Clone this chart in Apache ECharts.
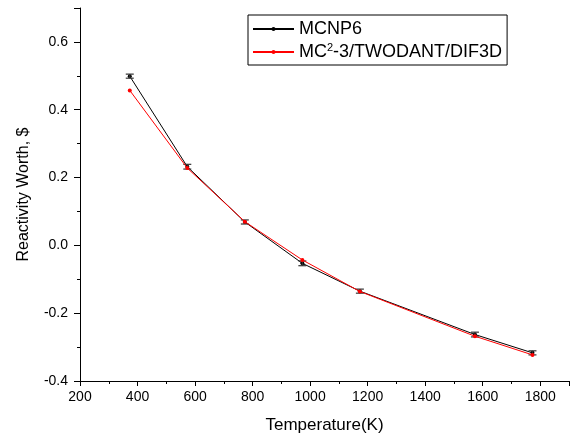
<!DOCTYPE html>
<html>
<head>
<meta charset="utf-8">
<script src="https://cdn.jsdelivr.net/npm/echarts@6/dist/echarts.min.js"></script>
<style>
  html, body { margin: 0; padding: 0; background: #fff; }
  #chart { width: 586px; height: 440px; }
</style>
</head>
<body>
<div id="chart"></div>
<script>
// temperatures (K)
var temps = [373, 573, 773, 973, 1173, 1573, 1773];
// MCNP6 reactivity worth ($) and its error
var mcnp6 = [0.499, 0.232, 0.069, -0.053, -0.135, -0.263, -0.317];
var mcnp6Err = [0.006, 0.007, 0.006, 0.007, 0.006, 0.007, 0.006];
// MC2-3/TWODANT/DIF3D
var dif3d = [0.457, 0.228, 0.070, -0.043, -0.136, -0.268, -0.323];

var font = "'Liberation Sans', Arial, sans-serif";

var chart = echarts.init(document.getElementById("chart"));

var option = {
  backgroundColor: "#fff",
  animation: false,
  textStyle: { fontFamily: font },
  grid: { left: 80, top: 8, right: 17, bottom: 59 },
  legend: {
    orient: "vertical",
    left: 248,
    top: 15,
    padding: [4, 5, 3, 4],
    itemGap: 3,
    itemWidth: 41,
    itemHeight: 5,
    borderColor: "#000",
    borderWidth: 1,
    borderRadius: 0,
    backgroundColor: "#fff",
    data: ["MCNP6", "MC2-3/TWODANT/DIF3D"],
    formatter: function (name) {
      if (name === "MC2-3/TWODANT/DIF3D") {
        return "MC{sup|2}-3/TWODANT/DIF3D";
      }
      return name;
    },
    textStyle: {
      fontSize: 18,
      lineHeight: 20,
      color: "#000",
      fontFamily: font,
      rich: {
        sup: { fontSize: 11, color: "#000", fontFamily: font, verticalAlign: "top", lineHeight: 12, padding: [0, 0, 8, 0] }
      }
    }
  },
  xAxis: {
    type: "value",
    min: 200,
    max: 1900,
    interval: 200,
    name: "Temperature(K)",
    nameLocation: "middle",
    nameGap: 36,
    nameTextStyle: { fontSize: 17, color: "#000", fontFamily: font },
    axisLine: { onZero: false, lineStyle: { color: "#000", width: 1 } },
    axisTick: { length: 5, lineStyle: { color: "#000" } },
    minorTick: { show: true, splitNumber: 2, length: 3, lineStyle: { color: "#000" } },
    splitLine: { show: false },
    axisLabel: {
      fontSize: 14,
      color: "#000",
      margin: 9,
      showMaxLabel: false,
      formatter: function (v) { return String(v); }
    }
  },
  yAxis: {
    type: "value",
    min: -0.4,
    max: 0.7,
    interval: 0.2,
    name: "Reactivity Worth, $",
    nameLocation: "middle",
    nameGap: 48,
    nameTextStyle: { fontSize: 16, color: "#000", fontFamily: font },
    axisLine: { show: true, onZero: false, lineStyle: { color: "#000", width: 1 } },
    axisTick: { show: true, length: 6, lineStyle: { color: "#000" } },
    minorTick: { show: true, splitNumber: 2, length: 3, lineStyle: { color: "#000" } },
    splitLine: { show: false },
    axisLabel: {
      fontSize: 14,
      color: "#000",
      margin: 12,
      showMaxLabel: false,
      formatter: function (v) { return v.toFixed(1); }
    }
  },
  series: [
    {
      name: "MCNP6",
      type: "line",
      symbol: "circle",
      symbolSize: 4,
      color: "#000",
      lineStyle: { color: "#000", width: 1 },
      itemStyle: { color: "#000" },
      data: temps.map(function (t, i) { return [t, mcnp6[i]]; }),
      z: 2
    },
    {
      name: "mcnp6Err",
      type: "custom",
      data: temps.map(function (t, i) { return [t, mcnp6[i] - mcnp6Err[i], mcnp6[i] + mcnp6Err[i]]; }),
      renderItem: function (params, api) {
        var lo = api.coord([api.value(0), api.value(1)]);
        var hi = api.coord([api.value(0), api.value(2)]);
        var w = 4;
        var st = { stroke: "#333", lineWidth: 1.2 };
        return {
          type: "group",
          children: [
            { type: "line", shape: { x1: lo[0], y1: lo[1], x2: hi[0], y2: hi[1] }, style: st },
            { type: "line", shape: { x1: lo[0] - w, y1: lo[1], x2: lo[0] + w, y2: lo[1] }, style: st },
            { type: "line", shape: { x1: hi[0] - w, y1: hi[1], x2: hi[0] + w, y2: hi[1] }, style: st }
          ]
        };
      },
      z: 3
    },
    {
      name: "MC2-3/TWODANT/DIF3D",
      type: "line",
      symbol: "circle",
      symbolSize: 4,
      color: "#ff0000",
      lineStyle: { color: "#ff0000", width: 1 },
      itemStyle: { color: "#ff0000" },
      data: temps.map(function (t, i) { return [t, dif3d[i]]; }),
      z: 4
    }
  ]
};

chart.setOption(option);
</script>
</body>
</html>
